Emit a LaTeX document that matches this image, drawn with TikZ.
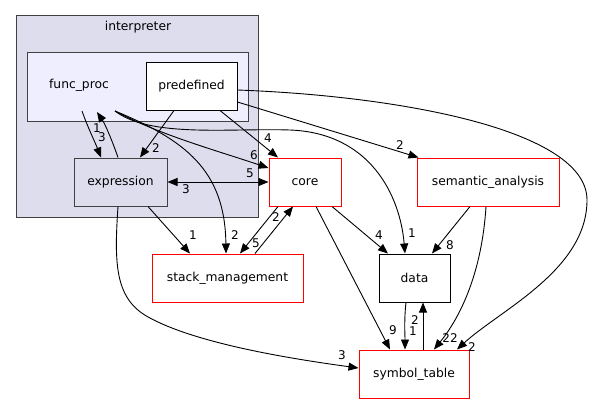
\documentclass[tikz,border=0pt]{standalone}
\usepackage{fontspec}
\setmainfont{DejaVu Sans}
\usetikzlibrary{arrows.meta,calc}
\definecolor{clout}{HTML}{DDDDEE}
\definecolor{clin}{HTML}{EEEEFF}
\definecolor{bord}{HTML}{404040}
\begin{document}
\begin{tikzpicture}[x=1pt,y=-1pt,
  font=\fontsize{12.3}{14}\selectfont,
  cluster/.style={draw=bord, line width=1pt},
  dirbox/.style={draw=black, line width=1pt, fill=white, inner sep=0pt},
  reddir/.style={draw=red, line width=1pt, fill=white, inner sep=0pt},
  edge/.style={draw=black, line width=0.9pt, -{Triangle[length=10pt,width=8pt]}},
  dedge/.style={draw=black, line width=0.9pt, {Triangle[length=10pt,width=8pt]}-{Triangle[length=10pt,width=8pt]}},
  lab/.style={inner sep=0pt, font=\fontsize{12}{14}\selectfont}]
\fill[white] (0,0) rectangle (593,404);
\useasboundingbox (0,0) rectangle (593,404);
% clusters
\node[cluster, fill=clout, minimum width=242pt, minimum height=202pt, anchor=north west, inner sep=0pt] (interp) at (16,15) {};
\node (interplab) at (138,27) {interpreter};
\node[cluster, fill=clin, minimum width=221pt, minimum height=69pt, anchor=north west, inner sep=0pt] (fp) at (27,52) {};
\node (fplab) at (79,85) {func\_proc};
% nodes
\node[dirbox, minimum width=91pt, minimum height=48pt] (pred) at (191.5,86) {predefined};
\node[dirbox, draw=bord, fill=clout, minimum width=93pt, minimum height=48pt] (expr) at (120.5,182) {expression};
\node[reddir, minimum width=72pt, minimum height=48pt] (core) at (305,182) {core};
\node[reddir, minimum width=142pt, minimum height=48pt] (sem) at (488,182) {semantic\_analysis};
\node[reddir, minimum width=151pt, minimum height=48pt] (stack) at (227.5,278) {stack\_management};
\node[dirbox, minimum width=71pt, minimum height=48pt] (data) at (414.5,278) {data};
\node[reddir, minimum width=110pt, minimum height=48pt] (sym) at (414,374) {symbol\_table};
% free ends inside func_proc cluster
\coordinate (fpA) at (82,111);
\coordinate (fpB) at (97,112);
\coordinate (fpC) at (115,111);
% edges
\draw[edge] (fpA) .. controls (88,128) and (95,142) .. ([xshift=-19.5pt]expr.north);
\draw[edge] ([xshift=-2.5pt]expr.north) .. controls (112,140) and (105,124) .. (fpB);
\draw[edge] ([xshift=-17.5pt]pred.south) -- ([xshift=19.5pt]expr.north);
\draw[edge] ([xshift=28.5pt]pred.south) -- ([xshift=-27pt]core.north);
\draw[edge] (fpC) .. controls (160,135) and (215,150) .. ([yshift=14pt]core.west);
\draw[dedge] (expr.east) -- (core.west);
\draw[edge] (fpC) .. controls (150,138) and (230,128) .. (290,130) .. controls (370,133) and (400,195) .. ([xshift=-9.5pt]data.north);
\draw[edge] (fpC) .. controls (185,140) and (225,170) .. ([xshift=-1.5pt]stack.north);
\draw[edge] ([yshift=-16pt]pred.east) -- ([xshift=2pt]sem.north west);
\draw[edge] ([yshift=-4pt]pred.east) .. controls (400,96) and (587,130) .. (587,200) .. controls (587,270) and (500,310) .. ([xshift=43pt]sym.north);
\draw[edge] ([xshift=27.5pt]expr.south) -- ([xshift=-37.5pt]stack.north);
\draw[edge] ([xshift=-2.5pt]expr.south) .. controls (114,265) and (115,300) .. (150,318) .. controls (200,345) and (300,360) .. ([yshift=6pt]sym.west);
\draw[edge] ([xshift=-27pt]core.south) -- ([xshift=12.5pt]stack.north);
\draw[edge] ([xshift=27.5pt]stack.north) -- ([xshift=-12pt]core.south);
\draw[edge] ([xshift=27pt]core.south) -- ([xshift=-26.5pt]data.north);
\draw[edge] ([xshift=11pt]core.south) -- ([xshift=-24pt]sym.north);
\draw[edge] ([xshift=-18pt]sem.south) -- ([xshift=17.5pt]data.north);
\draw[edge] ([xshift=-2pt]sem.south) .. controls (482,270) and (462,315) .. ([xshift=20pt]sym.north);
\draw[edge] ([xshift=-8.5pt]data.south) .. controls (404,320) and (405,335) .. ([xshift=-9pt]sym.north);
\draw[edge] ([xshift=9pt]sym.north) -- ([xshift=8.5pt]data.south);
% labels
\node[lab] (l1) at (102,137) {3};
\node[lab] (l2) at (97,128) {1};
\node[lab] (l3) at (156,148) {2};
\node[lab] (l4) at (268,138) {4};
\node[lab] (l5) at (254,155) {6};
\node[lab] (l6) at (250,173) {5};
\node[lab] (l7) at (186,189) {3};
\node[lab] (l8) at (400,145) {2};
\node[lab] (l9) at (412,233) {1};
\node[lab] (l10) at (379,235) {4};
\node[lab] (l11) at (450,245) {8};
\node[lab] (l12) at (276,217) {2};
\node[lab] (l13) at (256,243) {5};
\node[lab] (l14) at (235,235) {2};
\node[lab] (l15) at (193,235) {1};
\node[lab] (l16) at (393,330) {9};
\node[lab] (l17) at (342,355) {3};
\node[lab] (l18) at (415,320) {2};
\node[lab] (l19) at (413,331) {1};
\node[lab] (l20) at (450,338) {22};
\node[lab] (l21) at (472,347) {2};
\end{tikzpicture}
\end{document}
